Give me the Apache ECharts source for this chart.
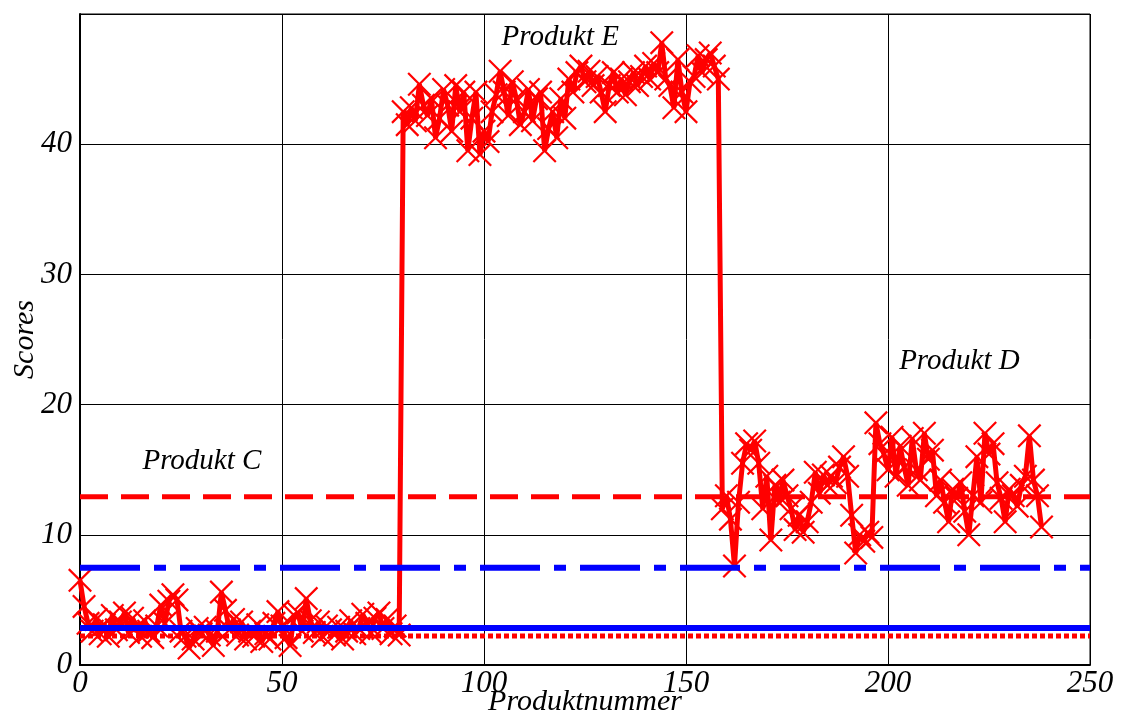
<!DOCTYPE html>
<html>
<head>
<meta charset="utf-8">
<script src="https://cdn.jsdelivr.net/npm/echarts@6/dist/echarts.min.js"></script>
<style>
  html, body { margin: 0; padding: 0; background: #fff; }
  #chart { width: 1124px; height: 713px; }
</style>
</head>
<body>
<div id="chart"></div>
<script>
// Scores per Produktnummer (index = Produktnummer)
var scoresC = [6.5, 4.5, 3.2, 2.6, 3.5, 2.4, 3.1, 2.2, 3.8, 2.7, 3.3, 4.0, 2.5, 3.6, 2.9, 2.2, 3.4, 2.6, 2.1, 3.0,
  4.6, 3.2, 4.9, 5.4, 5.0, 2.6, 2.2, 1.3, 2.0, 2.8, 2.4, 2.9, 2.3, 1.5, 2.6, 5.6, 4.2, 2.7, 3.5, 2.3,
  3.3, 2.0, 2.6, 2.2, 3.1, 1.8, 2.4, 2.0, 3.2, 4.1, 3.0, 2.1, 1.5, 3.8, 4.0, 2.6, 5.1, 3.4, 2.5, 3.3,
  2.2, 3.0, 2.7, 2.3, 2.9, 2.0, 2.6, 3.4, 2.4, 2.8, 3.9, 3.2, 2.5, 3.6, 4.0, 2.8, 3.5, 2.4, 3.0, 2.3];
var scoresE = [42.5, 41.5, 42.8, 41.8, 44.6, 43.0, 42.2, 43.5, 40.5, 42.0, 44.2, 43.0, 41.0, 44.5, 42.5, 44.0, 39.5, 42.0, 44.0, 39.2,
  41.0, 40.2, 42.5, 43.8, 45.6, 44.0, 42.2, 44.8, 43.5, 41.5, 42.5, 44.2, 41.8, 43.5, 44.0, 39.5, 41.2, 42.5, 40.5, 43.5,
  42.0, 45.0, 44.0, 45.5, 46.0, 44.8, 45.6, 44.5, 45.2, 44.0, 42.5, 44.5, 45.5, 44.0, 45.0, 43.8, 44.8, 45.5, 44.5, 45.2,
  46.0, 45.0, 46.2, 45.5, 47.8, 45.0, 44.5, 42.8, 46.5, 44.0, 42.5, 44.8, 45.2, 46.8, 45.5, 46.5, 47.0, 46.0, 45.0];
var scoresD = [12.0, 13.0, 11.2, 7.6, 12.5, 15.5, 17.0, 16.5, 17.2, 15.5, 12.0, 14.5, 9.6, 13.8, 12.5, 14.2, 13.0, 12.0, 10.4, 11.5,
  10.2, 11.0, 12.5, 14.8, 13.2, 14.6, 13.8, 14.5, 14.0, 15.2, 16.0, 14.5, 11.5, 8.6, 10.0, 9.5, 10.2, 9.8, 18.6, 17.0,
  16.2, 15.0, 17.5, 14.5, 16.8, 15.2, 13.8, 17.4, 15.0, 14.2, 17.8, 15.8, 16.5, 13.0, 14.2, 12.5, 11.0, 13.5, 12.8, 14.0,
  11.8, 10.0, 13.0, 16.0, 12.5, 17.8, 16.2, 17.0, 14.0, 12.8, 11.0, 13.5, 13.0, 12.2, 13.8, 14.5, 17.6, 14.2, 13.0, 10.6];

// reference levels
var redDashed = 12.92;
var blueDashDot = 7.46;
var blueSolid = 2.85;
var redDotted = 2.23;
var xRange = [0, 250];

var productLabels = ['Produkt C', 'Produkt E', 'Produkt D'];
var productLabelPos = [[30.3, 15.6], [119, 48.2], [217.8, 23.3]];

var allScores = scoresC.concat(scoresE, scoresD);
var scoreData = allScores.map(function(v, i) { return [i, v]; });

function levelLine(v) {
  return [[xRange[0], v], [xRange[1], v]];
}

var font = "'Liberation Serif', 'DejaVu Serif', serif";
var crossPath = 'path://M0,1.3L1.3,0L20,18.7L18.7,20Z M18.7,0L20,1.3L1.3,20L0,18.7Z';

var chart = echarts.init(document.getElementById('chart'));

chart.setOption({
  animation: false,
  backgroundColor: '#fff',
  grid: {
    left: 80,
    right: 34,
    top: 14,
    bottom: 48,
    outerBoundsMode: 'none',
    containLabel: false,
    show: true,
    borderColor: '#000',
    borderWidth: 1
  },
  xAxis: {
    type: 'value',
    min: 0,
    max: 250,
    interval: 50,
    name: 'Produktnummer',
    nameLocation: 'middle',
    nameGap: 22,
    nameMoveOverlap: false,
    nameTextStyle: {fontFamily: font, fontStyle: 'italic', fontSize: 30, color: '#000'},
    axisLine: {show: true, lineStyle: {color: '#000', width: 2}},
    axisTick: {show: false},
    axisLabel: {fontFamily: font, fontStyle: 'italic', fontSize: 31, color: '#000', margin: 3},
    splitLine: {show: true, lineStyle: {color: '#000', width: 1}}
  },
  yAxis: {
    type: 'value',
    min: 0,
    max: 50,
    interval: 10,
    name: 'Scores',
    nameLocation: 'middle',
    nameGap: 40,
    nameMoveOverlap: false,
    nameTextStyle: {fontFamily: font, fontStyle: 'italic', fontSize: 30, color: '#000'},
    axisLine: {show: true, lineStyle: {color: '#000', width: 2}},
    axisTick: {show: false},
    axisLabel: {
      fontFamily: font, fontStyle: 'italic', fontSize: 31, color: '#000', margin: 8,
      formatter: function(v) { return v === 50 ? '' : String(v); }
    },
    splitLine: {show: true, lineStyle: {color: '#000', width: 1}}
  },
  series: [
    {
      name: 'Scores',
      type: 'line',
      data: scoreData,
      symbol: crossPath,
      symbolSize: 24,
      showAllSymbol: true,
      lineStyle: {color: '#ff0000', width: 5},
      itemStyle: {color: '#ff0000'},
      z: 2
    },
    {
      type: 'line',
      data: levelLine(redDashed),
      symbol: 'none',
      lineStyle: {color: '#ff0000', width: 5, type: [28, 13]},
      z: 3
    },
    {
      type: 'line',
      data: levelLine(blueDashDot),
      symbol: 'none',
      lineStyle: {color: '#0000ff', width: 6, type: [60, 14, 12, 14]},
      z: 3
    },
    {
      type: 'line',
      data: levelLine(blueSolid),
      symbol: 'none',
      lineStyle: {color: '#0000ff', width: 6},
      z: 3
    },
    {
      type: 'line',
      data: levelLine(redDotted),
      symbol: 'none',
      lineStyle: {color: '#ff0000', width: 5, type: [5, 3]},
      z: 3
    },
    {
      type: 'scatter',
      data: productLabelPos.map(function(p, i) {
        return {value: p, label: {formatter: productLabels[i]}};
      }),
      symbolSize: 1,
      itemStyle: {color: '#fff', opacity: 0},
      label: {
        show: true,
        position: [0, 0],
        align: 'center',
        verticalAlign: 'middle',
        fontFamily: font,
        fontStyle: 'italic',
        fontSize: 29,
        color: '#000',
        opacity: 1,
        textBorderWidth: 0
      },
      silent: true,
      z: 4
    }
  ]
});
</script>
</body>
</html>
